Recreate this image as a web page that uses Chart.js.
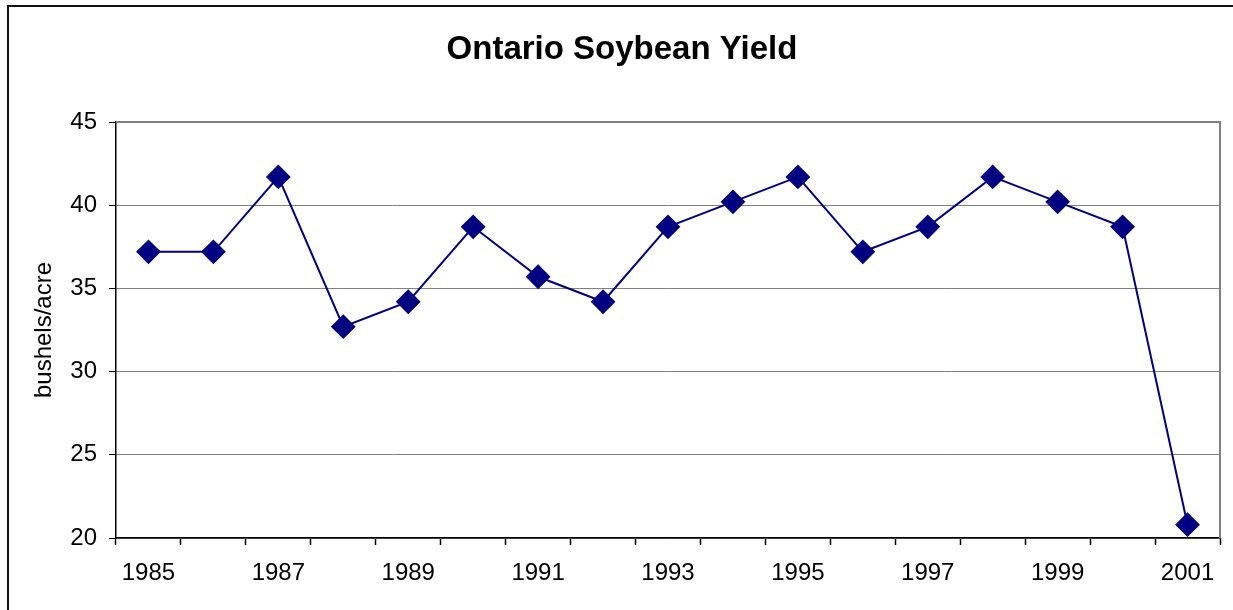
<!DOCTYPE html>
<html lang="en">
<head>
    <meta charset="UTF-8">
    <title>Ontario Soybean Yield</title>
    <script src="https://cdn.jsdelivr.net/npm/chart.js"></script>
    <style>
        html, body { margin: 0; padding: 0; background: #fff; overflow: hidden; }
        .frame {
            position: absolute; left: 7px; top: 5px;
            width: 1400px; height: 800px;
            border-left: 2px solid #111; border-top: 2px solid #111;
        }
        .wrap { position: absolute; left: 0; top: 0; width: 1233px; height: 610px; }
    </style>
</head>
<body>
    <div class="frame"></div>
    <div class="wrap"><canvas id="chart" width="1233" height="610"></canvas></div>

    <script>
        const years = ['1985', '1986', '1987', '1988', '1989', '1990', '1991', '1992', '1993',
                       '1994', '1995', '1996', '1997', '1998', '1999', '2000', '2001'];
        const yieldValues = [37.2, 37.2, 41.7, 32.7, 34.2, 38.7, 35.7, 34.2, 38.7,
                             40.2, 41.7, 37.2, 38.7, 41.7, 40.2, 38.7, 20.8];
        const yTicks = [20, 25, 30, 35, 40, 45];

        const fontFamily = '"Liberation Sans", Arial, sans-serif';

        // gray frame on top/right of the plot area, like the old Excel chart
        const plotFrame = {
            id: 'plotFrame',
            beforeDatasetsDraw(chart) {
                const { ctx, chartArea: a } = chart;
                ctx.save();
                ctx.strokeStyle = '#808080';
                ctx.lineWidth = 2;
                ctx.beginPath();
                ctx.moveTo(a.left, a.top);
                ctx.lineTo(a.right, a.top);
                ctx.lineTo(a.right, a.bottom);
                ctx.stroke();
                ctx.restore();
            }
        };

        new Chart(document.getElementById('chart'), {
            type: 'line',
            data: {
                labels: years,
                datasets: [{
                    data: yieldValues,
                    borderColor: '#000080',
                    backgroundColor: '#000080',
                    borderWidth: 2,
                    pointStyle: 'rectRot',
                    pointRadius: 11,
                    pointHoverRadius: 11,
                    tension: 0
                }]
            },
            options: {
                responsive: false,
                animation: false,
                layout: { padding: { left: 11, right: 0, top: 0, bottom: 0 } },
                plugins: {
                    legend: { display: false },
                    tooltip: { enabled: false },
                    title: {
                        display: true,
                        text: 'Ontario Soybean Yield',
                        color: '#000',
                        font: { family: fontFamily, size: 33, weight: 'bold' },
                        padding: { top: 30, bottom: 52.4 }
                    }
                },
                scales: {
                    x: {
                        offset: true,
                        afterFit(scale) { scale.height = 72; },
                        border: { color: '#000', width: 1.5 },
                        grid: {
                            offset: true,
                            drawOnChartArea: false,
                            drawTicks: true,
                            tickLength: 7,
                            tickColor: '#000',
                            tickWidth: 1.5
                        },
                        ticks: {
                            autoSkip: false,
                            maxRotation: 0,
                            padding: 14,
                            color: '#000',
                            font: { family: fontFamily, size: 24 },
                            callback: (v, i) => (i % 2 === 0 ? years[i] : '')
                        }
                    },
                    y: {
                        min: yTicks[0],
                        max: yTicks[yTicks.length - 1],
                        afterFit(scale) { scale.width = 105; },
                        afterBuildTicks(scale) { scale.ticks = yTicks.map(v => ({ value: v })); },
                        border: { color: '#000', width: 1.5 },
                        grid: {
                            color: '#808080',
                            lineWidth: 1,
                            tickLength: 7,
                            tickColor: '#000'
                        },
                        ticks: {
                            padding: 12,
                            color: '#000',
                            font: { family: fontFamily, size: 24 }
                        },
                        title: {
                            display: true,
                            text: 'bushels/acre',
                            color: '#000',
                            font: { family: fontFamily, size: 24 },
                            padding: { top: 19, bottom: 0 }
                        }
                    },
                    // empty right margin so the title centres like the original
                    yRight: {
                        position: 'right',
                        afterFit(scale) { scale.width = 11; },
                        grid: { display: false },
                        border: { display: false },
                        ticks: { display: false }
                    }
                }
            },
            plugins: [plotFrame]
        });
    </script>
</body>
</html>
